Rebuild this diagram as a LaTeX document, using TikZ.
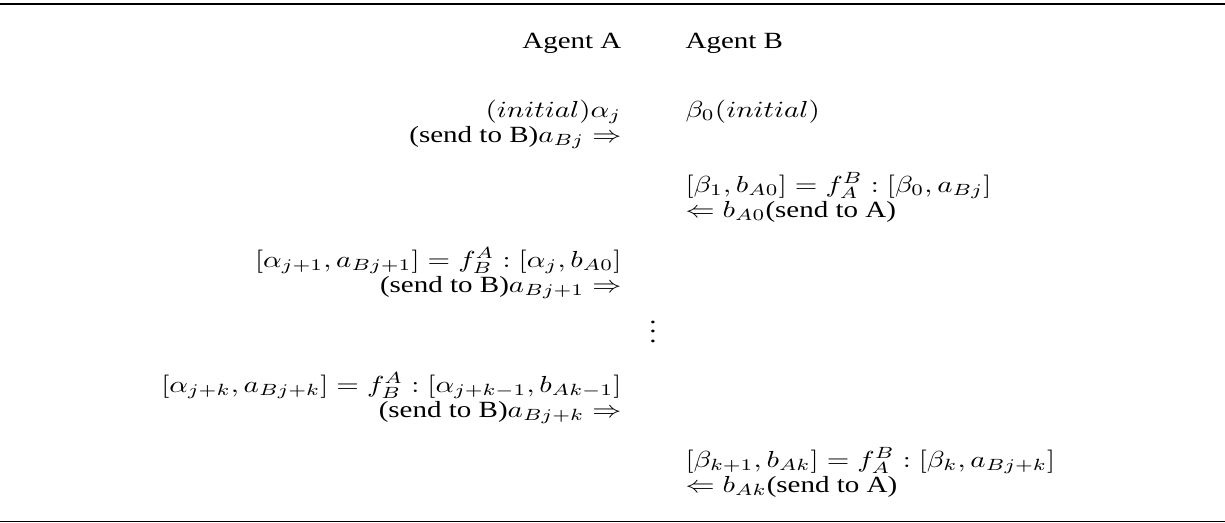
\documentclass[tikz,border=0pt]{standalone}
\usepackage{amsmath,amssymb}
\usepackage[no-math]{fontspec}
\setmainfont{Liberation Serif}
\usepackage{tikz}
\usetikzlibrary{positioning}

\begin{document}
\begin{tikzpicture}[x=0.3448pt, y=-0.3448pt,
    cell/.style={inner sep=0pt, yscale=0.8},
    colA/.style={cell, anchor=base east},
    colB/.style={cell, anchor=base west}]
    \useasboundingbox (0,0) rectangle (1225,523);
    % Filets haut et bas
    \draw[line width=0.8pt] (0,4) -- (1225,4);
    \draw[line width=0.5pt] (0,521.5) -- (1225,521.5);
    % En-tetes
    \node[colA] (agentA) at (622,48) {Agent A};
    \node[colB] (agentB) at (685,48) {Agent B};
    % Colonne de l'agent A
    \node[colA] (initA) at (622,117) {$(initial)\alpha_j$};
    \node[colA] (sendA0) at (622,142) {(send to B)$a_{Bj} \Rightarrow$};
    \node[colA] (stepA1) at (622,267) {$[\alpha_{j+1}, a_{Bj+1}] = f_B^A : [\alpha_j, b_{A0}]$};
    \node[colA] (sendA1) at (622,292) {(send to B)$a_{Bj+1} \Rightarrow$};
    \node[colA] (stepAk) at (622,392) {$[\alpha_{j+k}, a_{Bj+k}] = f_B^A : [\alpha_{j+k-1}, b_{Ak-1}]$};
    \node[colA] (sendAk) at (622,417) {(send to B)$a_{Bj+k} \Rightarrow$};
    % Colonne de l'agent B
    \node[colB] (initB) at (685,117) {$\beta_0(initial)$};
    \node[colB] (stepB1) at (685,192) {$[\beta_1, b_{A0}] = f_A^B : [\beta_0, a_{Bj}]$};
    \node[colB] (sendB1) at (685,217) {$\Leftarrow b_{A0}$(send to A)};
    \node[colB] (stepBk) at (685,467) {$[\beta_{k+1}, b_{Ak}] = f_A^B : [\beta_k, a_{Bj+k}]$};
    \node[colB] (sendBk) at (685,492) {$\Leftarrow b_{Ak}$(send to A)};
    % Points de suspension
    \node[cell, anchor=base] (vdots) at (653,342) {$\vdots$};
\end{tikzpicture}
\end{document}
